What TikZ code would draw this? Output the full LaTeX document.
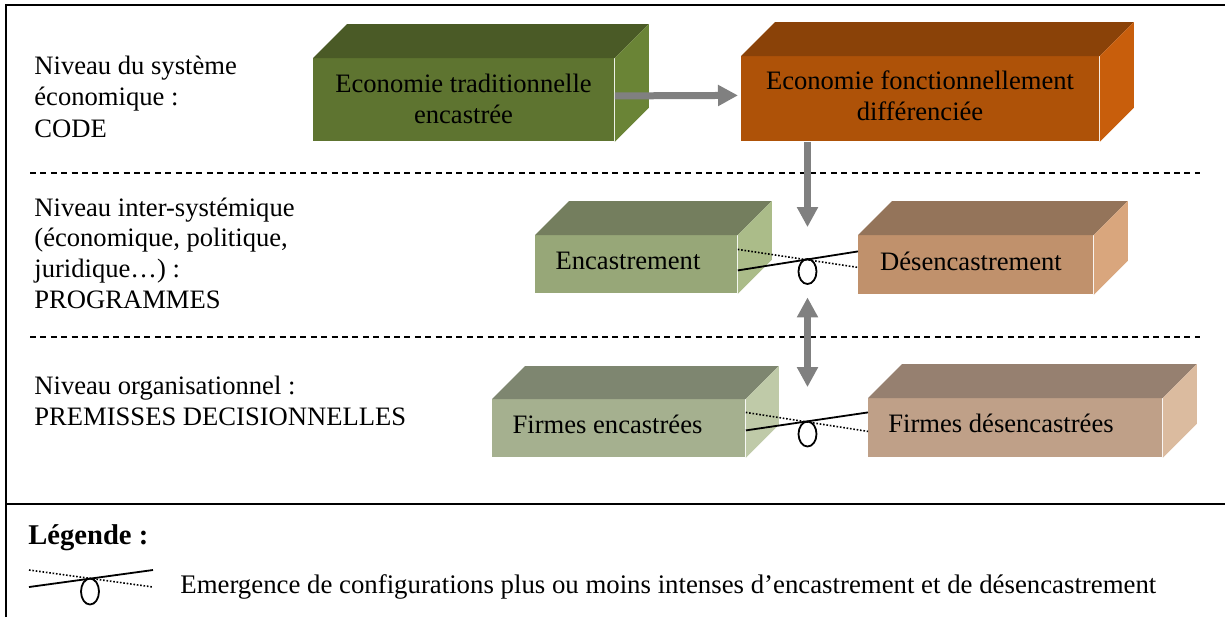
\documentclass[tikz,border=0pt]{standalone}
\usepackage{fontspec}
\setmainfont{Liberation Serif}
\usetikzlibrary{arrows.meta,calc,shapes.geometric}

\definecolor{g1f}{HTML}{5E7430}\definecolor{g1t}{HTML}{4A5A26}\definecolor{g1s}{HTML}{6A8436}
\definecolor{o2f}{HTML}{AE5208}\definecolor{o2t}{HTML}{8A4208}\definecolor{o2s}{HTML}{C85E0C}
\definecolor{g3f}{HTML}{97A778}\definecolor{g3t}{HTML}{747E5E}\definecolor{g3s}{HTML}{ABBC89}
\definecolor{b4f}{HTML}{C0916C}\definecolor{b4t}{HTML}{94745A}\definecolor{b4s}{HTML}{D9A67D}
\definecolor{g5f}{HTML}{A5B08F}\definecolor{g5t}{HTML}{7E8670}\definecolor{g5s}{HTML}{BFCAA8}
\definecolor{b6f}{HTML}{BFA088}\definecolor{b6t}{HTML}{968070}\definecolor{b6s}{HTML}{DBBB9F}
\definecolor{arrgray}{HTML}{808080}

\newcommand{\mycuboid}[9]{%
  \node[frontface, fill=#7, minimum width=#4*0.5pt, minimum height=#5*0.5pt] (#1) at (#2,#3) {};
  \fill[#8] (#1.north west) -- ++(#6,-#6) -- ($(#1.north east)+(#6,-#6)$) -- (#1.north east) -- cycle;
  \fill[#9] (#1.north east) -- ++(#6,-#6) -- ($(#1.south east)+(#6,-#6)$) -- (#1.south east) -- cycle;
}

\begin{document}
\begin{tikzpicture}[x=0.5pt,y=-0.5pt,
  frontface/.style={rectangle, inner sep=0pt, anchor=north west, draw=none},
  lbl/.style={anchor=base west, inner sep=0pt, font=\fontsize{13.3}{15.5}\selectfont},
  boxtxt/.style={inner sep=0pt, align=center, font=\fontsize{13.3}{15.5}\selectfont},
  sepline/.style={dash pattern=on 3pt off 2.2pt, line width=0.6pt},
  frameline/.style={line width=1.1pt},
  bigarrow/.style={draw=arrgray, line width=3.5pt, -{Triangle[width=10pt,length=10pt]}},
  dblarrow/.style={draw=arrgray, line width=3.5pt, {Triangle[width=10pt,length=10pt]}-{Triangle[width=10pt,length=10pt]}},
  dotline/.style={line width=0.8pt, dash pattern=on 0.8pt off 0.9pt},
  solidline/.style={line width=0.9pt},
  swcircle/.style={ellipse, draw, line width=0.9pt, inner sep=0pt, minimum width=9pt, minimum height=12.5pt}
]
\useasboundingbox (0,0) rectangle (1225,617);

% frame
\draw[frameline] (6,617) -- (6,5) -- (1225,5);
\draw[frameline] (6,504) -- (1225,504);

% level separators
\draw[sepline] (30,173) -- (1200,173);
\draw[sepline] (30,337) -- (1200,337);

% left labels
\node[lbl] (l1a) at (34,74) {Niveau du système};
\node[lbl] (l1b) at (34,105.5) {économique :};
\node[lbl] (l1c) at (34,137) {CODE};
\node[lbl] (l2a) at (34,216) {Niveau inter-systémique};
\node[lbl] (l2b) at (34,246.5) {(économique, politique,};
\node[lbl] (l2c) at (34,277) {juridique…) :};
\node[lbl] (l2d) at (34,308) {PROGRAMMES};
\node[lbl] (l3a) at (34,394) {Niveau organisationnel :};
\node[lbl] (l3b) at (34,425) {PREMISSES DECISIONNELLES};

% cuboids
\mycuboid{b1}{313}{58}{301}{83}{34}{g1f}{g1t}{g1s}
\mycuboid{b2}{741}{56}{358}{85}{34}{o2f}{o2t}{o2s}
\mycuboid{b3}{535}{235}{202}{58}{34}{g3f}{g3t}{g3s}
\mycuboid{b4}{858}{235}{235}{59}{34}{b4f}{b4t}{b4s}
\mycuboid{b5}{492}{399}{253}{58}{33}{g5f}{g5t}{g5s}
\mycuboid{b6}{868}{398}{294}{59}{34}{b6f}{b6t}{b6s}

% box texts
\node[boxtxt] (t1) at (463.5,99) {Economie traditionnelle\\encastrée};
\node[boxtxt] (t2) at (920,96) {Economie fonctionnellement\\différenciée};
\node[boxtxt, anchor=base] (t3) at (628,269) {Encastrement};
\node[boxtxt, anchor=base] (t4) at (971,270) {Désencastrement};
\node[boxtxt, anchor=base] (t5) at (607.5,433) {Firmes encastrées};
\node[boxtxt, anchor=base] (t6) at (1001,432) {Firmes désencastrées};

% switches
\node[swcircle] (sw1) at (807.5,271.5) {};
\node[swcircle] (sw2) at (807.5,434) {};
\draw[dotline] ($(b3.east)+(0,-15)$) -- ($(b4.west)+(0,2.5)$);
\draw[solidline] ($(b3.east)+(0,6)$) -- ($(b4.west)+(0,-13.5)$);
\draw[dotline] ($(b5.east)+(0,-16)$) -- ($(b6.west)+(0,3.5)$);
\draw[solidline] ($(b5.east)+(0,2)$) -- ($(b6.west)+(0,-15.5)$);

% arrows
\draw[bigarrow] ($(b1.east)+(0,-4)$) -- ($(b2.west)+(-3,-3.5)$);
\draw[bigarrow, shorten >=15.5pt] ($(b2.south west)+(66.5,0)$) -- (sw1.north);
\draw[dblarrow, shorten <=6.25pt, shorten >=16.75pt] (sw1.south) -- (sw2.north);

% legend
\node[anchor=base west, inner sep=0pt, font=\fontsize{14.3}{16}\selectfont\bfseries] (leg) at (28,544) {Légende :};
\coordinate (legA) at (29,570);
\coordinate (legB) at (153,587);
\coordinate (legC) at (29,587);
\coordinate (legD) at (153,570);
\draw[dotline] (legA) -- (legB);
\draw[solidline] (legC) -- (legD);
\node[swcircle, minimum height=13pt] (legE) at (90,591.5) {};
\node[lbl, font=\fontsize{13.4}{15.5}\selectfont] (legT) at (180,593) {Emergence de configurations plus ou moins intenses d’encastrement et de désencastrement};
\end{tikzpicture}
\end{document}
